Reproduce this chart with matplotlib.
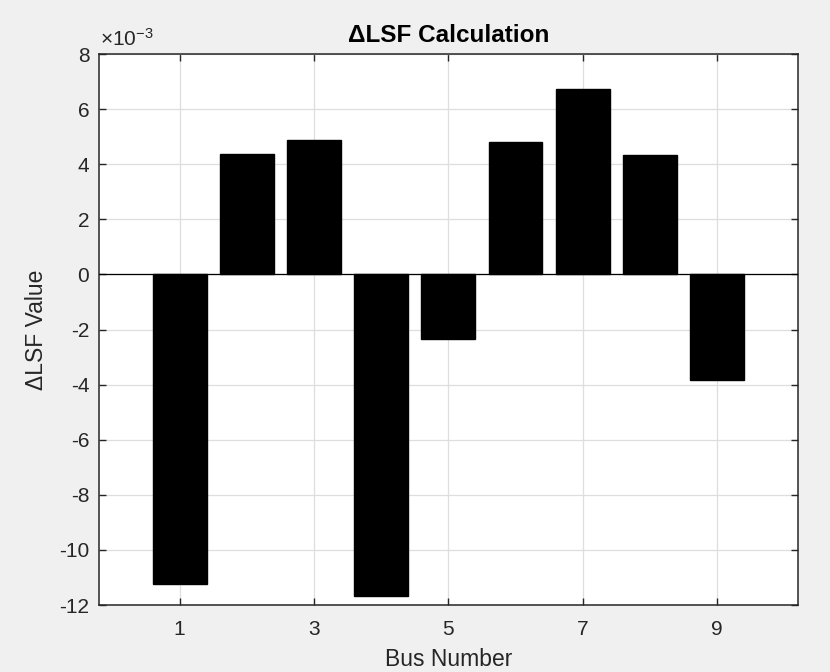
import matplotlib
matplotlib.use("Agg")
import matplotlib.pyplot as plt
from matplotlib.ticker import FuncFormatter

plt.rcParams['font.family'] = ['Liberation Sans', 'DejaVu Sans']
plt.rcParams['axes.unicode_minus'] = False
plt.rcParams['mathtext.fontset'] = 'custom'
plt.rcParams['mathtext.rm'] = 'Liberation Sans'
plt.rcParams['mathtext.it'] = 'Liberation Sans'

# Bus data (delta LSF per bus)
bus = [1, 2, 3, 4, 5, 6, 7, 8, 9]
delta_lsf = [-11.24e-3, 4.36e-3, 4.87e-3, -11.66e-3, -2.36e-3,
             4.82e-3, 6.74e-3, 4.32e-3, -3.83e-3]
xticks = [1, 3, 5, 7, 9]
yticks = [-12e-3, -10e-3, -8e-3, -6e-3, -4e-3, -2e-3, 0, 2e-3, 4e-3, 6e-3, 8e-3]
exponent = -3

ink = '#262626'
bg = '#f0f0f0'

fig = plt.figure(figsize=(8.3, 6.72), dpi=100, facecolor=bg)
ax = fig.add_axes([0.1193, 0.0997, 0.8418, 0.8199])

ax.bar(bus, delta_lsf, width=0.8, color='black', edgecolor='black', zorder=3)
ax.axhline(0, color='black', lw=0.9, zorder=4)

ax.set_xlim(-0.2, 10.2)
ax.set_ylim(-12e-3, 8e-3)
ax.set_xticks(xticks)
ax.set_yticks(yticks)

# tick labels in units of 10^-3, exponent shown above the axis
scale = 10.0 ** exponent
ax.yaxis.set_major_formatter(FuncFormatter(lambda v, pos: f"{round(v / scale):d}"))
ax.text(0.002, 1.008, r'$\times10^{%d}$' % exponent, transform=ax.transAxes,
        ha='left', va='bottom', fontsize=15, color=ink)

ax.grid(True, color='#dedede', lw=0.9, zorder=0)
ax.set_axisbelow(True)
ax.tick_params(direction='in', top=True, right=True, length=5, width=1.0,
               colors=ink, labelsize=15)
ax.tick_params(axis='y', pad=7)
ax.tick_params(axis='x', pad=11)
for s in ax.spines.values():
    s.set_color(ink)
    s.set_linewidth(1.1)

ax.set_title('ΔLSF Calculation', fontsize=17.5, fontweight='bold', color='black', pad=9)
ax.set_xlabel('Bus Number', fontsize=16.5, color=ink, labelpad=6)
ax.set_ylabel('ΔLSF Value', fontsize=16.5, color=ink, labelpad=8)

fig.savefig('out.png', dpi=100, facecolor=bg)
